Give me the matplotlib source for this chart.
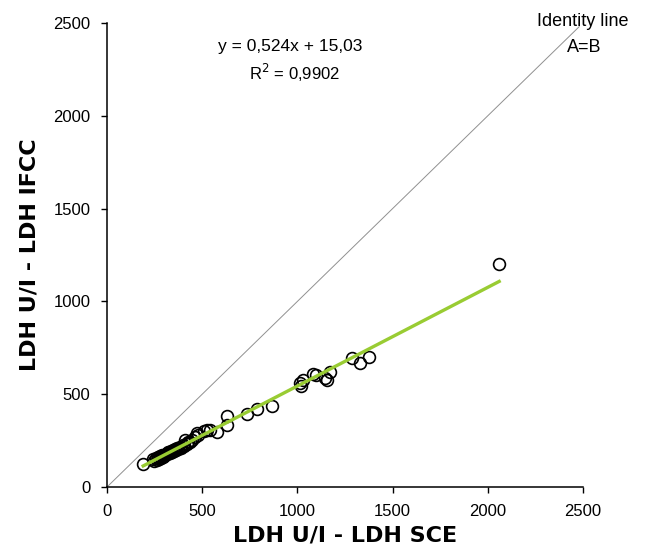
import numpy as np
from matplotlib import pyplot as plt

plt.rcParams['font.family'] = ['Liberation Sans', 'DejaVu Sans']

# LDH U/l: SCE method (x) vs IFCC method (y)
ldh_sce = [190, 240, 248, 255, 262, 268, 272, 278, 283, 288, 292, 297, 300,
           305, 310, 314, 318, 322, 326, 330, 335, 340, 345, 350, 355, 362,
           368, 375, 382, 390, 398, 405, 410, 418, 425, 435, 445, 460, 471,
           480, 510, 523, 540, 576, 628, 628, 733, 786, 865, 1013, 1020,
           1031, 1084, 1100, 1145, 1154, 1171, 1285, 1329, 1378, 2060]
ldh_ifcc = [122, 150, 142, 158, 147, 160, 152, 165, 158, 170, 163, 175, 168,
            172, 180, 176, 188, 181, 190, 184, 195, 189, 200, 193, 206, 198,
            210, 204, 216, 212, 228, 220, 253, 232, 240, 244, 252, 270, 289,
            280, 300, 307, 305, 298, 383, 334, 393, 420, 436, 560, 545,
            576, 609, 605, 586, 577, 621, 697, 666, 702, 1200]

x_ticks = [0, 500, 1000, 1500, 2000, 2500]
y_ticks = [0, 500, 1000, 1500, 2000, 2500]

x = np.array(ldh_sce)
y = np.array(ldh_ifcc)
slope, intercept = np.polyfit(x, y, 1)

fig = plt.figure(figsize=(6.47, 5.48), dpi=100)
ax = fig.add_axes([0.1654, 0.1113, 0.7356, 0.8467])

# identity line A=B
ax.plot([0, 2480], [0, 2480], color='#909090', lw=0.7, clip_on=False, zorder=1)

ax.plot(x, y, 'o', mfc='none', mec='black', ms=8.5, mew=1.2, zorder=3)

xf = np.array([x.min(), x.max()])
ax.plot(xf, slope * xf + intercept, color='#99cc33', lw=2.4, zorder=4)

ax.set_xlim(0, 2500)
ax.set_ylim(0, 2500)
ax.set_xticks(x_ticks)
ax.set_yticks(y_ticks)
ax.tick_params(direction='out', length=4, width=1, labelsize=12, colors='black', pad=8)

ax.spines['top'].set_color('none')
ax.spines['right'].set_color('none')
ax.spines['left'].set_linewidth(1.1)
ax.spines['bottom'].set_linewidth(1.1)

lab = dict(fontsize=16, fontweight='bold', family=['DejaVu Sans'])
ax.set_xlabel('LDH U/I - LDH SCE', labelpad=5, **lab)
ax.set_ylabel('LDH U/I - LDH IFCC', labelpad=10, **lab)

fig.text(290 / 647, 1 - 46 / 548, 'y = 0,524x + 15,03', ha='center', va='center', fontsize=12.5)
fig.text(295 / 647, 1 - 73 / 548, 'R$^2$ = 0,9902', ha='center', va='center', fontsize=12)
narrow = ['Liberation Sans Narrow', 'Liberation Sans']
fig.text(583 / 647, 1 - 22 / 548, 'Identity line', ha='center', va='center', fontsize=13, family=narrow)
fig.text(584 / 647, 1 - 47 / 548, 'A=B', ha='center', va='center', fontsize=13, family=narrow)

plt.savefig('out.png', dpi=100)
